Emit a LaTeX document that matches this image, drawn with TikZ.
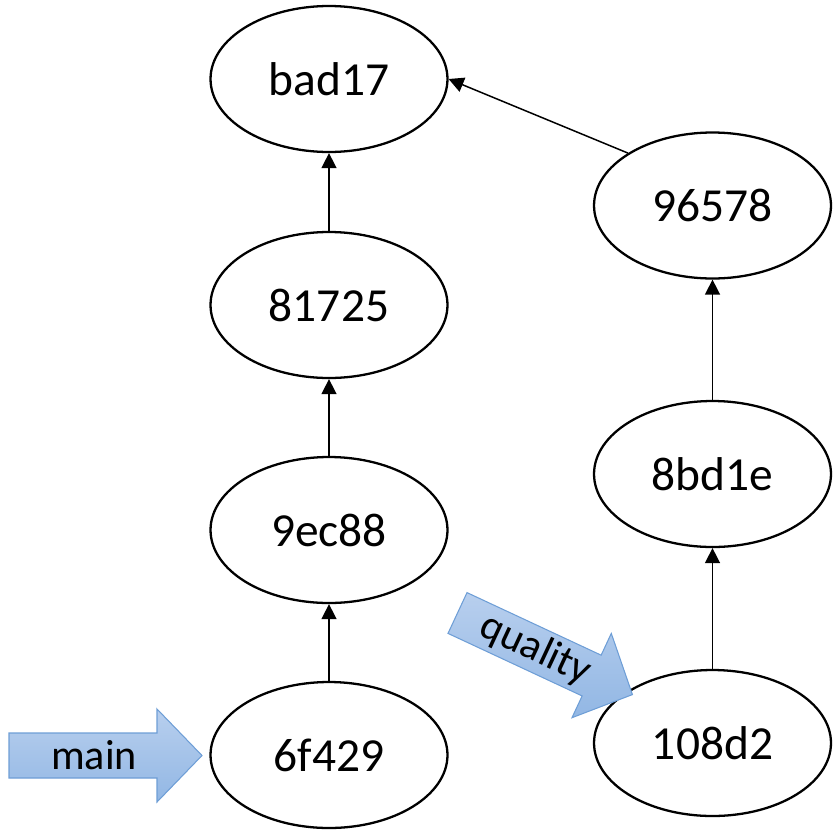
\documentclass[tikz,border=0pt]{standalone}
\usepackage{fontspec}
\setmainfont{Carlito}
\usetikzlibrary{arrows.meta,shapes.geometric}

\definecolor{ptrtop}{RGB}{184,207,238}
\definecolor{ptrbot}{RGB}{146,183,228}
\definecolor{ptrline}{RGB}{110,158,214}

\tikzset{
	commit/.style={draw, ellipse, line width=1.3pt, minimum width=4.74cm, minimum height=2.92cm, inner sep=0pt, font=\fontsize{27}{30}\selectfont},
	parent/.style={line width=0.85pt, -{Triangle[length=0.3cm,width=0.3cm]}},
	pointer/.style={draw=ptrline, line width=0.6pt, top color=ptrtop, bottom color=ptrbot},
	ptrlabel/.style={font=\fontsize{24}{28}\selectfont, inner sep=0pt}
}

\begin{document}
\begin{tikzpicture}[x=0.02cm, y=-0.02cm]
		\useasboundingbox (0,0) rectangle (834,832);
		\foreach \id/\y in {bad17/79, 81725/305, 9ec88/530, 6f429/755} {
			\node[commit] (c\id) at (329,\y) {\id};
		}
		\foreach \id/\y in {96578/205.5, 8bd1e/474, 108d2/743} {
			\node[commit] (c\id) at (712.5,\y) {\id};
		}
		\foreach \a/\b in {6f429/9ec88, 9ec88/81725, 81725/bad17, 108d2/8bd1e, 8bd1e/96578} {
			\draw[parent] (c\a) -- (c\b);
		}
		\draw[parent] (c96578.north west) -- (cbad17.east);
		% branch pointers
		\begin{scope}[shift={(9,755.5)}]
			\draw[pointer] (0,-22.5) -- (148,-22.5) -- (148,-46.5) -- (193,0) -- (148,46.5) -- (148,22.5) -- (0,22.5) -- cycle;
			\node[ptrlabel] (main) at (85,0) {main};
		\end{scope}
		\begin{scope}[shift={(457.5,613)}, rotate=-25]
			\draw[pointer] (0,-22.5) -- (148,-22.5) -- (148,-46.5) -- (193,0) -- (148,46.5) -- (148,22.5) -- (0,22.5) -- cycle;
			\node[ptrlabel, rotate=-25] (quality) at (86,0) {quality};
		\end{scope}
	\end{tikzpicture}
\end{document}
